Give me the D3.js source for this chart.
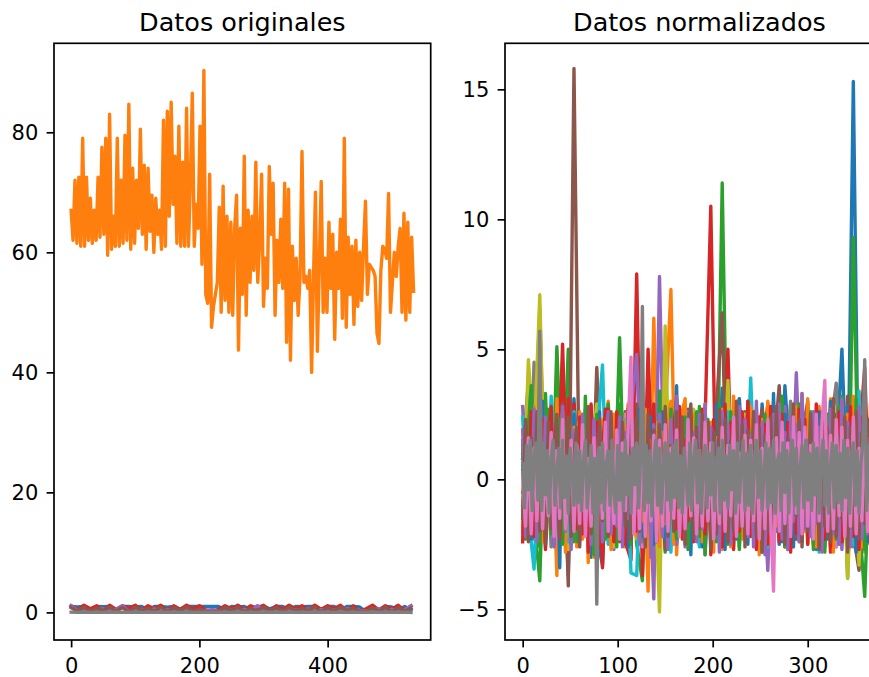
<!DOCTYPE html>
<html><head><meta charset="utf-8">
<script src="https://cdn.jsdelivr.net/npm/d3@7"></script>
<style>
body{margin:0;background:#fff}
svg{display:block}
text{font-family:"DejaVu Sans",sans-serif;fill:#000}
</style></head>
<body><svg id="c" width="869" height="677"></svg>
<script>
// ---------------- DATA ----------------
// Left panel ("Datos originales"): row index (every 3rd row) and the large orange column
const origX = d3.range(0, 535, 3);
const origOrange = [
 67,62,72,61.5,72.5,61,79,61,72.5,62,
 69,61.5,67,62,72.5,62.5,77.5,63,79,59.5,
 83,60.5,66,61,79,61,72,61.5,79.5,62,
 84.7,60.5,74,61.5,72,64,80.5,63,74.5,60.5,
 74,63.5,69.5,60,69,63,67,60.5,82,61,
 83.5,66,85,68,76,61.5,81,61,75,61,
 84,61,72,86.5,61,68,64,81,58,90.3,
 53,51.5,73,47.5,51,53,55,67.5,50,71,
 52,66,50,65,49.5,64,69.5,43.7,64,53,
 76,49.5,67,55,66,57,75,55,62,73,
 51,59,54,74.3,63,71.5,49.5,62,55,65.5,
 54,71.5,45,70.5,42,61,52,59,49.5,56,
 76.8,55,56,54,57,40,56,70,43.5,58,
 71.8,50,59,50,65,54,63,45.5,60,54,
 65.5,49,79,47.5,62.5,53,61,48,62,51,
 60,52,61,68.5,53,58,57.5,57,56,46.5,
 44.8,57,61,60.5,59,69.8,50,55,60,56,
 61,64,50,66.5,48.7,65,50,62.5,53.5
];
// small-valued columns of the original data (every 10th row)
const origSmallX = d3.range(0, 531, 10);
const origBlue = [1.0,0.9,1.0,0.3,1.0,0.95,1.0,0.4,1.0,1.0, 0.9,1.0,0.2,1.0,1.0,0.85,1.0,0.5,1.0,1.0,
 1.0,1.0,1.0,1.0,0.3,1.0,0.9,1.0,0.4,1.0, 1.0,0.6,1.0,1.0,0.2,1.0,0.95,1.0,1.0,0.5,
 1.0,1.0,0.3,1.0,1.0,0.9,0.1,1.0,0.2,1.0, 0.9,0.3,1.0,0.4];
const origRed = [1.1,0.4,1.2,0.6,1.1,0.3,1.2,0.5,1.1,0.7, 1.2,0.4,1.1,0.6,1.2,0.3,1.1,0.5,1.2,0.6,
 1.1,0.4,0.2,0.5,1.1,0.6,1.2,0.4,1.1,0.7, 1.2,0.3,1.1,0.5,1.2,0.6,1.1,0.4,1.2,0.5,
 1.1,0.6,1.2,0.3,1.1,0.2,0.6,1.2,0.4,1.1, 0.5,1.2,0.3,1.1];
const origPurple = [1.1,0.3,0.5,0.2,0.4,0.6,0.3,0.5,1.1,0.2, 0.4,0.5,0.3,0.6,0.2,0.4,0.5,0.3,0.6,0.2,
 0.4,0.3,0.5,0.2,0.6,0.4,0.3,0.5,0.2,1.1, 0.4,0.3,0.6,0.2,0.5,0.4,0.3,0.6,0.2,0.5,
 0.3,0.4,0.2,0.6,0.5,0.3,0.2,0.4,0.6,0.3, 0.5,0.2,0.4,1.1];
const origBrown = [0.8,0.2,0.9,0.1,0.7,0.3,0.9,0.2,0.8,0.1, 0.9,0.3,0.7,0.2,0.9,0.1,0.8,0.3,0.9,0.2,
 0.6,0.1,0.1,0.2,0.8,0.3,0.9,0.1,0.7,0.2, 0.9,0.3,0.8,0.1,0.9,0.2,0.7,0.3,0.9,0.1,
 0.8,0.2,0.9,0.3,0.7,0.1,0.1,0.8,0.2,0.9, 0.1,0.8,0.2,0.7];
const origGray = [0.03,0.0,0.06,0.01,0.04,0.0,0.05,0.02,0.03,0.0, 0.06,0.01,0.04,0.0,0.05,0.02,0.03,0.0,0.06,0.01,
 0.04,0.0,0.05,0.02,0.03,0.0,0.06,0.01,0.04,0.0, 0.05,0.02,0.03,0.0,0.06,0.01,0.04,0.0,0.05,0.02,
 0.03,0.0,0.06,0.01,0.04,0.0,0.05,0.02,0.03,0.0, 0.06,0.01,0.04,0.0];

// Right panel ("Datos normalizados"): standardized columns.
// Columns 0-9 read every 6th row, columns 10-16 every 3rd row, column 17 every 2nd row.
const normX = d3.range(0, 373, 6);
const normX3 = d3.range(0, 373, 3);
const normX2 = d3.range(0, 373, 2);
const n00 = [1.0,3.7,-1.8,2.9,-2.6,1.4,-0.8,2.5,-1.9,3.1, -1.2,0.6,2.8,-2.2,-3.3,1.9,-1.5,2.6,-0.4,-2.4,
 1.1,2.3,-1.7,-2.8,0.9,2.2,-1.4,1.6,-2.1,2.7, -0.6,1.3,-2.3,2.0,-1.0,3.5,-1.8,0.4,2.4,-2.0,
 1.2,-1.6,2.9,-0.9,1.7,-2.5,3.6,0.3,-1.3,2.1, -2.2,1.5,-0.7,2.6,-1.9,0.8,5.0,-1.2,15.3,-2.4, 1.6,-1.1,2.0];
const n01 = [-0.5,2.2,-2.1,6.6,-1.4,2.9,-3.7,4.5,-1.0,2.4, -2.3,1.8,-0.9,2.6,-2.0,3.0,-1.6,0.7,-2.6,2.1,
 -1.2,2.8,-4.3,6.2,-1.8,2.4,7.3,-2.9,1.9,-1.1, 2.6,-2.2,1.0,-1.5,2.9,-2.7,1.4,2.2,-1.9,0.5,
 2.7,-2.4,1.6,-0.8,3.0,-2.1,1.2,2.5,-1.7,3.3, -2.5,0.9,2.8,-1.3,3.1,-2.6,1.8,2.6,-2.0,1.3, -2.8,2.4,-0.6];
const n02 = [0.4,2.6,-1.5,-3.9,3.3,-2.2,5.1,-1.1,5.0,-2.4, 1.7,-1.3,2.4,-2.7,0.8,2.9,-1.9,5.45,-2.0,1.2,
 -2.5,-3.9,2.6,-1.0,2.2,-2.8,0.6,3.1,-1.7,1.5, -2.3,2.8,-0.4,1.9,-2.1,11.4,-1.6,2.5,-2.6,1.1,
 2.3,-1.9,0.7,2.6,-2.4,1.4,-1.2,2.9,-2.3,0.9, 2.1,-2.7,1.6,-0.5,2.7,-2.0,3.2,-3.8,9.3,-1.5, -4.5,2.1,-0.7];
const n03 = [-1.0,2.4,1.1,4.6,-2.3,2.0,-1.4,5.2,-2.6,2.9, -0.8,2.2,-1.9,1.5,-3.4,2.7,-1.1,1.8,-2.4,-3.1,
 7.9,-3.7,5.0,-1.6,2.1,-2.2,2.8,0.9,2.5,-1.8, 1.7,-2.5,2.3,10.5,-2.0,1.3,5.0,-2.7,2.6,-0.9,
 2.2,-2.3,1.0,2.9,-1.7,2.4,-2.6,0.6,3.0,-1.4, 2.5,-2.1,1.2,2.7,-2.8,1.9,-0.6,2.3,-2.2,1.4, 4.3,-2.5,1.8];
const n04 = [2.8,-1.6,1.9,6.2,-2.0,2.5,-1.2,1.4,-3.7,2.2, -2.4,1.0,2.6,-1.8,0.5,2.3,-2.7,1.6,-1.0,2.7,
 4.8,-2.2,1.3,-4.6,7.8,-1.9,2.4,-2.5,1.1,2.6, -1.5,2.2,-2.9,0.8,2.5,-1.4,1.9,-2.3,3.1,-0.7,
 1.6,-2.6,1.0,-3.5,2.0,-1.1,2.8,-2.0,4.1,-1.7, 2.3,-2.4,0.9,3.0,-1.6,2.1,-2.7,1.5,2.4,-1.9, 2.9,-2.3,1.2];
const n05 = [0.8,2.7,-2.3,1.5,-1.4,2.2,-2.0,2.9,-4.1,15.8, -1.7,2.4,-2.2,4.3,-1.0,2.0,-2.5,1.3,2.6,-1.6,
 2.9,-2.1,1.7,-0.8,2.4,-2.7,1.1,2.3,-1.9,0.7, 2.5,-2.2,1.4,-1.3,2.8,6.4,-2.4,1.9,-1.1,2.6,
 -2.0,1.2,2.7,-2.5,0.9,3.6,-1.5,2.2,-2.3,1.6, 3.0,-1.8,2.4,-2.6,1.0,2.5,-1.2,3.2,-2.1,-3.5, 2.0,-1.7,3.0];
const n06 = [-1.2,1.8,-2.0,2.4,-0.7,1.5,-2.3,2.1,-1.3,0.9, 2.2,-1.8,1.2,-2.4,2.0,-0.9,1.7,-2.1,2.5,-1.0,
 1.4,-2.6,2.3,-1.5,0.6,2.6,-2.0,1.3,-1.2,2.1, -2.2,1.1,2.4,-1.7,0.8,-2.5,2.2,-0.6,1.9,-2.3,
 2.0,-1.4,1.5,-2.1,2.7,-1.1,0.7,-2.4,2.3,-1.6, 1.8,-2.2,2.5,-0.9,1.4,-2.6,2.1,-1.3,0.5,2.4, -2.0,1.6,-1.4];
const n07 = [1.5,-2.1,4.5,-1.3,2.0,-2.6,1.1,2.3,-1.8,0.7, -2.2,1.9,-1.0,2.6,-2.3,1.4,0.2,-1.9,2.2,-1.1,
 2.0,-2.4,1.3,-1.6,2.5,-0.8,1.7,-2.2,2.4,-1.4, 0.9,2.1,-2.5,1.6,-1.2,2.3,-2.0,1.0,2.8,-1.7,
 -0.5,2.2,-2.3,1.5,-1.9,2.6,-1.0,3.0,-2.1,1.2, 2.4,-1.5,0.8,-2.4,2.0,3.7,-1.8,1.3,-2.6,2.2, -1.2,1.9,-0.8];
const n08 = [-1.9,4.6,1.3,7.1,-2.2,1.8,-1.5,2.6,-2.7,1.0, 2.3,-1.7,0.8,2.9,-2.1,1.5,-2.6,2.0,-0.6,1.7,
 -2.3,2.5,-1.4,1.1,-5.1,5.9,-2.0,2.2,-1.3,0.9, 2.7,-2.4,1.6,-1.0,2.3,-2.2,3.8,-1.7,1.2,2.5,
 -2.0,1.4,-2.5,2.4,-0.9,1.9,-2.3,2.1,-1.2,2.8, -1.9,2.6,-2.4,1.3,2.0,-1.6,2.7,-3.8,1.1,-3.3, 2.2,-2.0,1.5];
const n09 = [2.4,-1.4,-3.45,2.0,-2.1,3.2,-1.5,1.2,-2.4,2.6, -1.1,2.7,-2.2,1.4,4.4,-2.5,1.9,-1.3,2.3,-3.6,
 -3.7,2.1,-2.0,1.6,-1.0,2.5,-2.8,1.3,2.2,-1.7, 1.0,-2.6,2.4,-1.3,1.7,-2.3,2.6,-0.8,1.5,-2.1,
 3.9,-1.8,1.2,-2.6,2.3,-1.0,2.0,-2.7,1.6,2.9, -2.2,1.1,-2.8,2.6,-1.4,1.9,-2.0,2.8,-2.5,3.4, -1.6,2.2,-2.3];
const n10 = [0.5,-1.7,2.1,-2.3,1.2,2.6,-1.5,3.0,-2.1,0.8, 2.3,-2.5,1.6,-3.4,2.2,-1.2,0.9,-2.3,2.5,-1.6,
 1.8,-2.2,0.7,2.4,-3.0,1.5,-1.8,2.6,-2.4,1.2, -1.4,2.3,-2.1,1.0,2.5,-1.9,1.3,-2.6,0.6,2.2,
 -1.7,2.7,-2.2,1.4,-1.1,2.4,-2.5,1.8,-0.8,2.6, -2.3,1.6,2.2,-1.5,3.6,-2.0,1.2,-2.4,2.5,-2.9,
 1.9,-1.4,2.3,-2.6,2.8,-1.1,1.7,-2.2,2.9,-1.8, 2.1,-2.7,1.4,-1.6,2.6,-2.3,3.1,-1.2,2.0,-2.5,
 1.3,-1.9,2.7,-2.1,1.6,-2.8,2.2,-1.5,3.3,-2.0, 1.8,-2.4,2.5,-1.3,2.1,-2.6,1.5,-2.2,2.9,-1.7,
 2.4,-2.0,1.1,-2.7,2.6,-1.4,2.0,-2.3,3.0,-1.9, 1.7,-2.5,2.3,-1.6,2.8,-2.1,1.4,-2.8,2.5,-1.2,
 2.2,-2.4,1.9,-1.7,2.6];
const n11 = [-2.0,1.4,2.3,-1.6,2.8,-1.2,4.2,-2.4,1.5,-1.1, 2.5,-1.9,3.1,-2.2,1.0,-2.8,2.4,-1.4,2.0,-2.6,
 2.6,-2.3,1.7,-3.2,2.2,-3.0,1.9,-1.5,2.3,-2.1, 1.3,-2.7,2.5,-1.2,2.0,-2.4,1.6,2.9,-1.8,2.4,
 -2.2,1.1,-1.6,2.7,-2.3,1.5,-1.0,2.2,-2.6,1.8, -1.7,2.3,3.0,-2.5,1.4,-1.9,2.6,3.1,-2.2,1.0,
 2.5,-1.8,1.7,-2.4,2.9,-1.5,2.2,-2.8,1.6,-2.0, 2.7,-1.3,2.0,-2.6,3.2,-1.9,1.5,-2.3,2.4,-1.6,
 2.8,-2.2,1.2,-2.9,2.3,-1.4,3.0,-2.5,1.9,-1.8, 2.6,-2.1,1.4,-2.7,2.2,-1.6,2.8,-2.4,1.7,-2.0,
 3.1,-1.5,2.4,-2.6,1.8,-2.2,2.7,-1.9,2.1,-2.8, 1.6,-2.3,2.9,-1.7,2.5,-2.5,3.2,-2.0,1.9,-2.6,
 2.4,-1.8,2.9,-2.3,1.5];
const n12 = [1.3,-2.3,2.0,3.6,-1.7,2.4,-2.6,1.0,-1.4,2.7, -2.1,1.6,-0.9,2.3,-2.5,1.2,2.8,-1.8,0.6,-2.4,
 2.1,-1.5,3.2,-2.0,1.4,-2.9,2.5,-1.1,1.8,-2.3, 2.4,-1.9,1.2,-2.6,2.9,-1.0,-2.2,1.7,-2.5,2.2,
 1.5,-2.3,2.6,-1.4,0.8,-2.1,2.3,-1.7,3.4,-2.0, 1.2,-2.4,2.7,-1.2,-2.3,2.1,-1.5,2.4,-2.7,1.9,
 -1.3,2.6,-2.2,1.8,-2.9,2.3,-1.6,2.0,-2.4,2.8, -1.8,1.5,-2.5,2.6,-1.2,2.2,-2.7,1.7,-2.0,3.0,
 -1.5,2.4,-2.3,1.9,-2.8,2.5,-1.4,2.1,-2.2,2.7, -1.9,3.2,-2.6,1.6,-2.1,2.3,-1.7,2.9,-2.4,1.4,
 -2.0,2.6,-2.5,1.8,-1.3,2.2,-2.8,2.5,-1.6,2.0, -2.3,2.8,-1.8,1.7,-2.6,2.4,-2.1,3.1,-1.5,2.2,
 -2.7,1.9,-2.0,2.5,-1.4];
const n13 = [-2.4,2.1,-1.0,2.6,-2.2,1.8,-1.5,2.3,-2.7,1.4, 2.8,-1.6,1.1,-2.3,2.5,-1.2,3.1,-2.5,1.7,-1.9,
 2.4,-2.1,1.5,-2.8,2.9,-1.4,2.2,-2.6,1.0,2.7, -1.8,2.3,-2.4,2.6,-1.3,2.0,-2.5,1.6,-1.7,2.8,
 -2.0,1.4,2.5,-2.2,1.7,-1.6,2.9,-2.4,1.2,-1.8, 2.6,-2.5,1.3,2.2,-1.9,2.8,-2.3,1.5,-1.6,2.4,
 -2.4,1.9,-1.5,2.7,-2.1,1.6,-2.9,2.3,-1.7,2.0, -2.6,2.9,-1.4,2.2,-2.3,1.8,-2.0,2.6,-1.5,3.0,
 -2.2,1.7,-2.7,2.4,-1.8,2.1,-2.5,2.8,-1.3,1.9, -2.4,2.5,-1.9,2.2,-2.8,1.5,-2.1,2.7,-1.6,2.3,
 -2.5,1.8,-2.0,2.9,-1.7,2.4,-2.3,2.0,-2.6,1.6, -1.9,2.6,-2.4,2.1,-1.5,2.8,-2.2,1.9,-2.7,2.4,
 -1.6,2.2,-2.5,1.7,-2.0];
const n14 = [1.9,-2.2,1.2,-1.5,2.7,-2.4,1.6,-1.9,2.4,-1.3, 1.5,-2.6,2.2,-1.1,2.8,-2.0,1.3,-2.7,1.9,0.7,
 -2.3,2.5,-1.6,1.7,-2.5,2.3,-1.2,2.0,-2.4,1.4, 2.6,-2.1,1.0,-1.8,2.4,-2.6,1.8,-1.5,2.2,-2.0,
 1.3,-2.5,2.7,-1.7,1.6,-3.0,2.1,-1.4,2.5,-2.2, 1.1,-2.7,2.3,-1.5,3.2,-2.0,1.4,-2.6,2.2,-1.3,
 1.8,-2.4,2.5,-1.9,2.9,-1.6,2.0,-2.3,1.5,-2.8, 2.6,-1.7,2.1,-2.5,1.4,-2.0,2.8,-1.5,2.3,-2.2,
 1.7,-2.6,3.0,-1.8,2.2,-2.9,1.6,-2.1,2.5,-1.4, 2.9,-2.3,1.8,-2.7,2.4,-1.6,2.1,-2.4,3.3,-1.9,
 1.5,-2.2,2.6,-1.7,2.0,-2.8,2.3,-1.5,2.7,-2.1, 1.9,-2.5,3.1,-1.8,2.2,-2.6,1.7,-2.0,2.8,-2.3,
 1.6,-2.1,2.4,-1.6,2.0];
const n15 = [-1.5,2.3,-2.4,1.6,-1.2,2.6,-2.0,1.3,-2.5,2.2, -1.9,1.4,2.5,-2.3,1.8,-1.1,2.4,-2.2,1.0,2.0,
 -2.6,1.5,-1.4,2.8,-2.1,1.2,-2.7,2.3,-1.6,1.9, -2.2,2.6,-1.5,1.1,-2.4,2.2,-1.8,2.7,-2.3,1.5,
 2.4,-2.0,1.6,-2.6,2.5,-1.3,1.9,-2.4,2.1,-1.7, 2.8,-2.2,1.3,-2.0,2.6,-1.6,2.4,-2.5,1.7,2.9,
 -2.3,2.0,-1.9,2.5,-1.4,2.2,-2.7,1.8,-2.1,2.7, -1.6,2.3,-2.4,1.5,-2.0,3.0,-1.8,2.1,-2.6,1.9,
 -1.5,2.6,-2.2,2.0,-2.8,1.7,-1.9,2.4,-2.3,2.8, -1.7,2.2,-2.5,1.6,-2.1,2.9,-1.4,2.3,-2.6,1.8,
 -2.0,2.5,-1.6,2.1,-2.7,2.6,-1.8,1.9,-2.4,3.1, -2.2,1.7,-1.5,2.4,-2.8,2.0,-1.9,2.6,-2.3,1.8,
 -1.7,2.3,-2.5,2.1,-1.8];
const n16 = [0.2,-1.8,1.6,-2.1,1.2,-1.6,2.0,-1.9,0.9,-1.4, 1.8,-2.2,1.1,-1.5,2.3,-1.9,-0.6,1.5,-2.0,1.3,
 -1.7,2.1,-2.2,0.8,-1.8,1.6,-2.3,1.2,-1.5,2.2, -2.0,1.0,-1.7,1.9,-2.3,1.4,-1.2,2.0,4.7,-2.1,
 1.3,-1.9,2.2,-2.2,0.9,-1.6,1.7,-2.4,1.5,-1.8, 2.1,-2.0,1.2,-1.5,1.9,-2.2,0.7,-1.9,2.3,-1.4,
 1.6,-2.1,1.1,-1.8,2.2,-1.6,1.4,-2.3,0.8,-1.7, 2.0,-2.0,1.3,-1.4,2.4,-2.2,1.0,-1.8,1.7,-2.1,
 1.5,-1.6,2.1,-2.3,1.2,-1.9,2.3,-1.5,-4.3,1.6, -2.0,2.2,-1.7,1.4,-2.2,2.4,-1.3,1.8,-2.1,2.0,
 -1.8,1.3,-2.3,2.5,-1.6,2.2,3.8,-2.0,1.7,-1.9, 2.3,-1.4,2.0,-2.2,1.5,-1.8,2.4,-2.1,1.2,-1.6,
 2.2,-2.0,1.6,-1.3,1.9];
const n17 = [0.6,-1.1,1.3,-0.4,1.5,-1.2,0.9,1.4,-0.8,5.7, -1.2,1.4,-0.6,1.1,-1.3,0.8,1.5,-1.0,0.3,1.2,
 -1.1,1.5,-0.7,0.9,-1.3,1.2,0.4,-1.0,1.4,-0.9, 1.1,-1.2,0.7,1.5,-1.1,0.2,1.3,-1.3,0.8,-4.8,
 1.2,-0.9,1.4,-1.2,0.6,1.1,-1.0,1.5,-0.5,-1.3, 1.3,-0.8,1.0,-1.2,1.5,-0.6,0.9,-1.3,1.2,-0.2,
 1.4,-1.1,0.8,6.65,-1.2,1.3,-0.9,1.1,-1.4,0.6, 1.5,-1.0,1.2,-1.3,0.4,1.4,-0.8,1.0,-1.2,1.3,
 -0.7,1.5,-1.1,0.9,-1.3,1.2,0.1,-1.0,1.4,-1.2, 0.8,1.5,-0.9,1.1,-1.3,0.5,1.3,-1.1,1.0,-0.6,
 1.4,-1.2,0.7,1.2,-1.3,1.5,-0.8,0.9,-1.1,1.3, -0.4,1.1,-1.3,1.4,-0.9,0.6,1.5,-1.2,1.0,-1.0,
 1.3,-1.3,0.8,1.5,-0.7,1.1,-1.2,0.3,1.4,-1.1, 1.2,-0.9,1.5,-1.3,0.7,1.0,-1.2,1.4,-0.5,1.1,
 -1.3,0.9,1.5,-1.0,1.2,-1.3,0.4,1.3,-1.1,1.5, -0.8,1.0,-1.2,1.4,-0.6,1.2,-1.3,0.8,1.5,-1.0,
 1.1,-1.3,0.5,1.4,-1.1,1.3,-0.9,1.0,-1.2,1.5, -0.7,1.2,-1.3,0.9,1.4,-1.0,1.1,-1.3,0.6,1.4,
 4.6,-1.2,1.3,-0.9,1.1,-1.3,0.8];

// axis ticks and titles
const leftXTicks = [0, 200, 400];
const leftYTicks = [0, 20, 40, 60, 80];
const rightXTicks = [0, 100, 200, 300];
const rightYTicks = [-5, 0, 5, 10, 15];
const titles = ["Datos originales", "Datos normalizados"];

// ---------------- DRAWING ----------------
const svg = d3.select("#c");
const color = i => d3.schemeCategory10[i % 10];
const TICK_FS = 21, TITLE_FS = 25.5, LW = 3.4, SPINE = 1.7, TL = 7.4, PAD = 8.3;
const fmt = d => (d < 0 ? "\u2212" + Math.abs(d) : String(d));

function panel(cfg) {
  const g = svg.append("g");
  const xs = d3.scaleLinear().domain(cfg.xd).range([cfg.left, cfg.right]);
  const ys = d3.scaleLinear().domain(cfg.yd).range([cfg.bottom, cfg.top]);
  const cid = "clip" + cfg.id;
  svg.append("defs").append("clipPath").attr("id", cid)
    .append("rect").attr("x", cfg.left).attr("y", cfg.top)
    .attr("width", cfg.right - cfg.left).attr("height", cfg.bottom - cfg.top);
  const lg = g.append("g").attr("clip-path", `url(#${cid})`);
  cfg.series.forEach(s => {
    const line = d3.line().x((d, i) => xs(s.x[i])).y(d => ys(d));
    lg.append("path").attr("d", line(s.y)).attr("fill", "none")
      .attr("stroke", s.color).attr("stroke-width", LW)
      .attr("stroke-linejoin", "round").attr("stroke-linecap", "square");
  });
  g.append("rect").attr("x", cfg.left).attr("y", cfg.top)
    .attr("width", cfg.right - cfg.left).attr("height", cfg.bottom - cfg.top)
    .attr("fill", "none").attr("stroke", "#000").attr("stroke-width", SPINE);
  const ax = g.append("g").attr("transform", `translate(0,${cfg.bottom})`)
    .call(d3.axisBottom(xs).tickValues(cfg.xt).tickSize(TL).tickPadding(PAD).tickFormat(fmt));
  const ay = g.append("g").attr("transform", `translate(${cfg.left},0)`)
    .call(d3.axisLeft(ys).tickValues(cfg.yt).tickSize(TL).tickPadding(PAD).tickFormat(fmt));
  [ax, ay].forEach(a => {
    a.select(".domain").remove();
    a.selectAll("line").attr("stroke", "#000").attr("stroke-width", SPINE);
    a.selectAll("text").attr("font-family", "DejaVu Sans").attr("font-size", TICK_FS).attr("fill", "#000");
  });
  ax.selectAll("text").attr("dy", "0.8em");
  ay.selectAll("text").attr("dy", "0.36em");
  g.append("text").attr("x", (cfg.left + cfg.right) / 2).attr("y", 30.5)
    .attr("text-anchor", "middle").attr("font-size", TITLE_FS).text(cfg.title);
}

panel({
  id: 0, left: 54, right: 430.7, top: 43.3, bottom: 640,
  xd: [-26.7, 560.7], yd: [-4.6, 94.83], xt: leftXTicks, yt: leftYTicks, title: titles[0],
  series: [
    { x: origSmallX, y: origBlue, color: color(0) },
    { x: origX, y: origOrange, color: color(1) },
    { x: origSmallX, y: origRed, color: color(3) },
    { x: origSmallX, y: origPurple, color: color(4) },
    { x: origSmallX, y: origBrown, color: color(5) },
    { x: origSmallX, y: origGray, color: color(7) }
  ]
});

const normCols = [n00,n01,n02,n03,n04,n05,n06,n07,n08,n09,n10,n11,n12,n13,n14,n15,n16,n17];
const normXs = normCols.map((c, i) => i === 17 ? normX2 : i >= 10 ? normX3 : normX);
panel({
  id: 1, left: 505, right: 893.8, top: 43.3, bottom: 640,
  xd: [-18.6, 390.6], yd: [-6.18, 16.77], xt: rightXTicks, yt: rightYTicks, title: titles[1],
  series: normCols.map((c, i) => ({ x: normXs[i], y: c, color: color(i) }))
});
</script>
</body></html>
